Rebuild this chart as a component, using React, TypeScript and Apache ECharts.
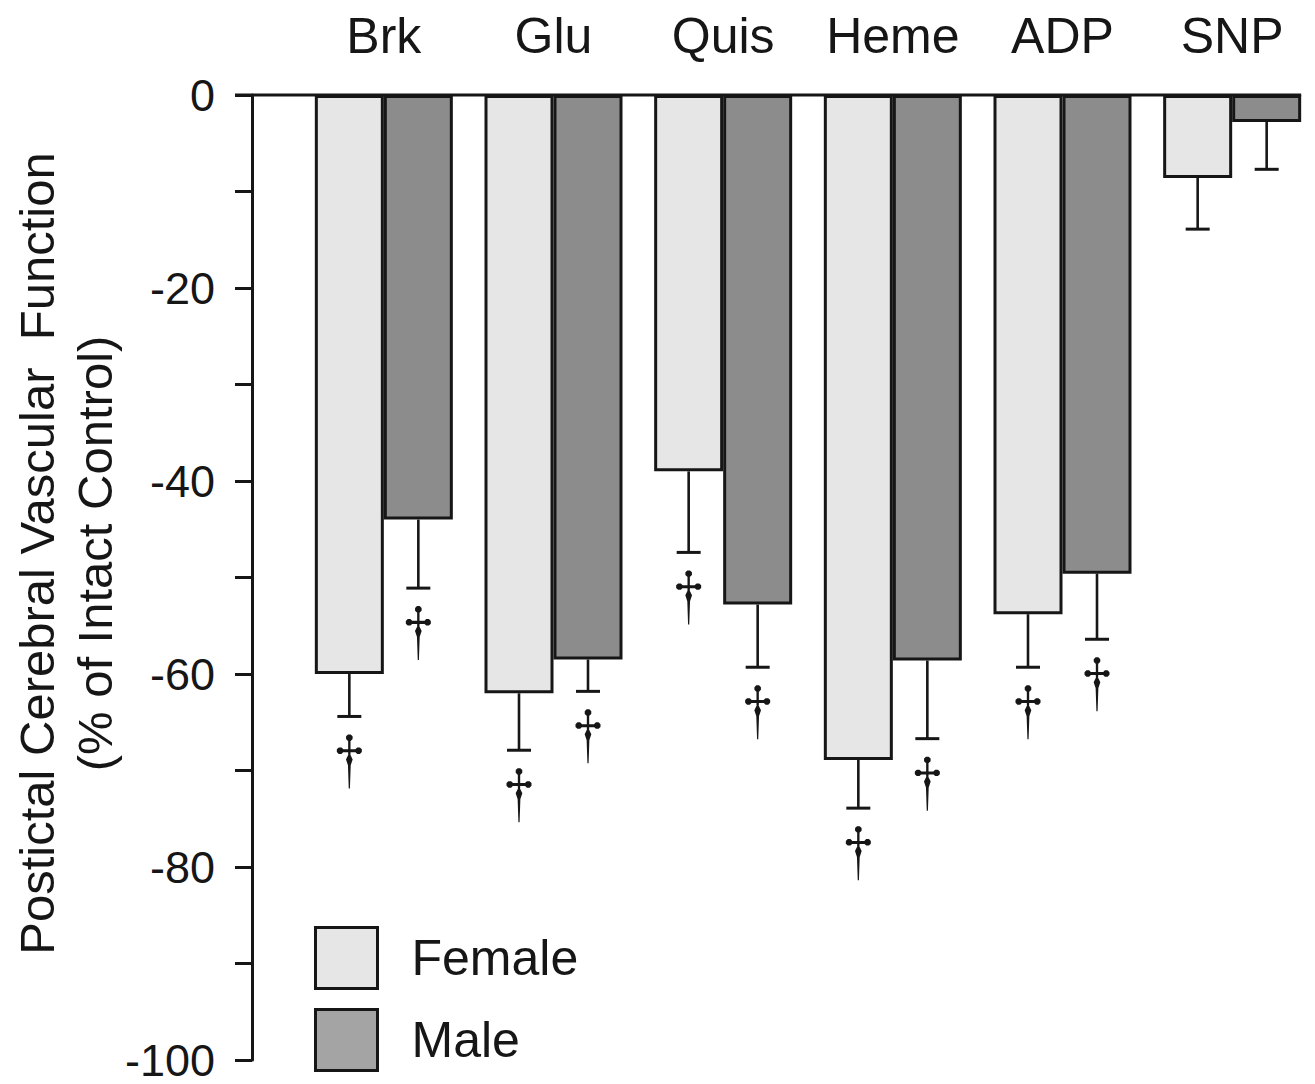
import React, { useEffect, useRef } from "react";
import * as echarts from "echarts";

const categories = ["Brk", "Glu", "Quis", "Heme", "ADP", "SNP"];
const femaleMean = [-60, -62, -39, -68.9, -53.8, -8.6];
const femaleErrLow = [-64.4, -67.9, -47.4, -73.9, -59.3, -13.9];
const maleMean = [-44, -58.5, -52.8, -58.6, -49.6, -2.8];
const maleErrLow = [-51.1, -61.8, -59.3, -66.7, -56.4, -7.7];
const femaleSig = [true, true, true, true, true, false];
const maleSig = [true, true, true, true, true, false];
const yTicks = { min: -100, max: 0, interval: 10, labelEvery: 20 };

const BAR_W = 69;
const INK = "#161616";

function dot(cx: number, cy: number, r: number) {
  const pts: string[] = [];
  for (let k = 0; k < 8; k++) {
    const a = ((k * 45 + 22.5) * Math.PI) / 180;
    pts.push((cx + r * Math.cos(a)).toFixed(2) + "," + (cy + r * Math.sin(a)).toFixed(2));
  }
  return "M" + pts.join(" L") + " Z ";
}

const DAGGER =
  "path://" +
  dot(13, 3.6, 3.6) +
  dot(3.6, 17, 3.6) +
  dot(22.4, 17, 3.6) +
  "M4,15.5 L22,15.5 L22,18.6 L4,18.6 Z " +
  "M11.8,4 L14.2,4 L14.2,21 L11.8,21 Z " +
  "M13,19 L16.4,26 L14.4,32 L13.6,56 L12.4,56 L11.6,32 L9.6,26 Z";

function errorSeries(name: string, mean: number[], low: number[], off: number) {
  return {
    name,
    type: "custom",
    z: 5,
    data: categories.map((_, i) => [i, mean[i], low[i]]),
    encode: { x: 0, y: [1, 2] },
    renderItem: (params: any, api: any) => {
      const c = api.coord([api.value(0), api.value(1)]);
      const l = api.coord([api.value(0), api.value(2)]);
      const x = c[0] + off;
      return {
        type: "group",
        children: [
          { type: "line", shape: { x1: x, y1: c[1], x2: x, y2: l[1] }, style: { stroke: INK, lineWidth: 2.6 } },
          { type: "line", shape: { x1: x - 12, y1: l[1], x2: x + 12, y2: l[1] }, style: { stroke: INK, lineWidth: 3 } },
        ],
      };
    },
  };
}

function daggerSeries(name: string, low: number[], sig: boolean[], off: number) {
  return {
    name,
    type: "scatter",
    z: 6,
    symbol: DAGGER,
    symbolSize: [25, 54],
    symbolKeepAspect: false,
    symbolOffset: [off, 45],
    itemStyle: { color: INK, opacity: 1 },
    data: low.map((v, i) => (sig[i] ? [i, v] : null)).filter((d) => d !== null),
  };
}

export default function App() {
  const ref = useRef<HTMLDivElement>(null);
  useEffect(() => {
    document.body.style.margin = "0";
    const chart = echarts.init(ref.current!, null, { renderer: "svg" });
    const font = "'Liberation Sans', Arial, Helvetica, sans-serif";
    chart.setOption({
      animation: false,
      backgroundColor: "#ffffff",
      textStyle: { fontFamily: font },
      grid: { left: 299, top: 95, width: 1018, height: 965, outerBoundsMode: "none", containLabel: false },
      legend: {
        orient: "vertical",
        left: 314,
        top: 926,
        padding: 0,
        itemWidth: 62,
        itemHeight: 61,
        itemGap: 18,
        icon: "rect",
        textStyle: { fontSize: 50, color: INK, fontFamily: font, padding: [0, 0, 0, 29] },
        itemStyle: { borderColor: INK, borderWidth: 3 },
        data: [
          { name: "Female", itemStyle: { color: "#e6e6e6" } },
          { name: "Male", itemStyle: { color: "#a4a4a4" } },
        ],
      },
      xAxis: {
        type: "category",
        position: "top",
        data: categories,
        axisLine: { show: false },
        axisTick: { show: false },
        axisLabel: { interval: 0, hideOverlap: false, fontSize: 50, color: INK, margin: 34, fontFamily: font },
      },
      yAxis: {
        type: "value",
        min: yTicks.min,
        max: yTicks.max,
        interval: yTicks.interval,
        offset: 47,
        splitLine: { show: false },
        axisLine: { show: true, lineStyle: { color: INK, width: 3 } },
        axisTick: { show: true, length: 17, lineStyle: { color: INK, width: 3 } },
        axisLabel: {
          fontSize: 45,
          lineHeight: 40,
          color: INK,
          margin: 37,
          fontFamily: font,
          formatter: (v: number) => (v % yTicks.labelEvery === 0 ? String(v) : ""),
        },
        name: "Postictal Cerebral Vascular  Function\n(% of Intact Control)",
        nameLocation: "middle",
        nameRotate: 90,
        nameGap: 128,
        nameMoveOverlap: false,
        nameTextStyle: { fontSize: 49, lineHeight: 58, color: INK, fontFamily: font, padding: [0, 0, 0, 48] },
      },
      series: [
        {
          name: "Female",
          type: "bar",
          barWidth: BAR_W,
          barGap: "0%",
          data: femaleMean,
          itemStyle: { color: "#e6e6e6", borderColor: INK, borderWidth: 3 },
        },
        {
          name: "Male",
          type: "bar",
          barWidth: BAR_W,
          barGap: "0%",
          data: maleMean,
          itemStyle: { color: "#8c8c8c", borderColor: INK, borderWidth: 3 },
        },
        errorSeries("FemaleErr", femaleMean, femaleErrLow, -BAR_W / 2),
        errorSeries("MaleErr", maleMean, maleErrLow, BAR_W / 2),
        daggerSeries("FemaleSig", femaleErrLow, femaleSig, -BAR_W / 2),
        daggerSeries("MaleSig", maleErrLow, maleSig, BAR_W / 2),
      ],
    });
    const y0 = chart.convertToPixel({ yAxisIndex: 0 }, 0) as number;
    const xAxisPos = 299 - 47 - 17;
    const xEnd = (chart.convertToPixel({ xAxisIndex: 0 }, categories[categories.length - 1]) as number) + BAR_W;
    chart.setOption({
      graphic: [
        {
          type: "line",
          z: 10,
          shape: { x1: xAxisPos, y1: y0, x2: xEnd, y2: y0 },
          style: { stroke: INK, lineWidth: 3 },
        },
      ],
    });
    return () => chart.dispose();
  }, []);
  return <div ref={ref} style={{ width: 1315, height: 1084 }} />;
}
